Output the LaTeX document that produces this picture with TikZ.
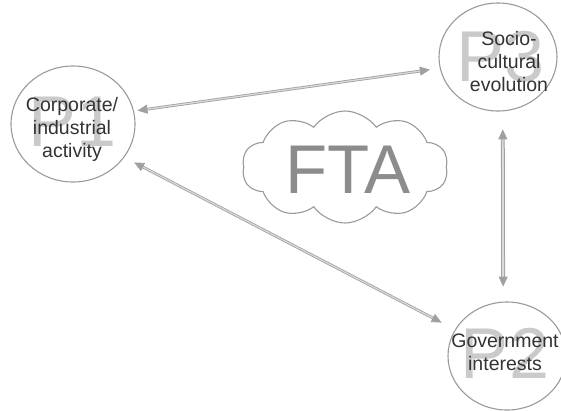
\documentclass[tikz,border=0pt]{standalone}
\usepackage{fontspec}
\setmainfont{Liberation Sans}
\usetikzlibrary{shapes.geometric,shapes.symbols,arrows.meta}
\definecolor{circgray}{HTML}{9A9A9A}
\definecolor{txtgray}{HTML}{333333}
\definecolor{biggray}{HTML}{CACACA}
\definecolor{ftagray}{HTML}{8C8C8C}
\definecolor{arrowgray}{HTML}{A0A0A0}
\definecolor{arrowin}{HTML}{DADADA}
\begin{document}
\begin{tikzpicture}[x=1pt,y=-1pt,
  bubble/.style={ellipse,draw=circgray,line width=1.1pt,inner sep=0pt},
  bubtext/.style={text=txtgray,font=\fontsize{19.5}{23}\selectfont,align=center,inner sep=0pt},
  bigp/.style={text=biggray,font=\fontsize{72}{72}\selectfont,inner sep=0pt},
  link/.style={draw=arrowgray,double=arrowin,line width=0.8pt,double distance=1.2pt,
    {Triangle[length=10pt,width=9pt]}-{Triangle[length=10pt,width=9pt]}},
]
\useasboundingbox (0,0) rectangle (561,410);
% big background letters
\node[bigp] (b1) at (73,122) {P1};
\node[bigp] (b3) at (501,57) {P3};
\node[bigp] (b2) at (505,353) {P2};
% circles
\node[bubble,minimum width=124pt,minimum height=116pt] (p1) at (73,124) {};
\node[bubble,minimum width=118pt,minimum height=108pt] (p3) at (498,57) {};
\node[bubble,minimum width=118pt,minimum height=108pt] (p2) at (507,356) {};
% texts
\node[bubtext] (t1) at (72,129) {Corporate/\\industrial\\activity};
\node[bubtext] (t3) at (509,62) {Socio-\\cultural\\evolution};
\node[bubtext] (t2) at (505,352) {Government\\interests};
% cloud
\node[cloud,draw=circgray,line width=1.1pt,cloud puffs=10,cloud puff arc=110,aspect=2,
  minimum width=206pt,minimum height=112pt,inner sep=0pt] (cl) at (345,167) {};
\node[text=ftagray,font=\fontsize{69}{69}\selectfont,inner sep=0pt] (fta) at (348,170) {FTA};
% connectors
\draw[link,shorten <=3.5pt,shorten >=10pt] (p1.12) -- (p3.191);
\draw[link,shorten <=11pt,shorten >=15pt] (p1.327) -- (p2.153);
\draw[link,line width=1pt,double distance=1.8pt,shorten <=18pt,shorten >=15pt] (p3.275) -- (p2.94);
\end{tikzpicture}
\end{document}
